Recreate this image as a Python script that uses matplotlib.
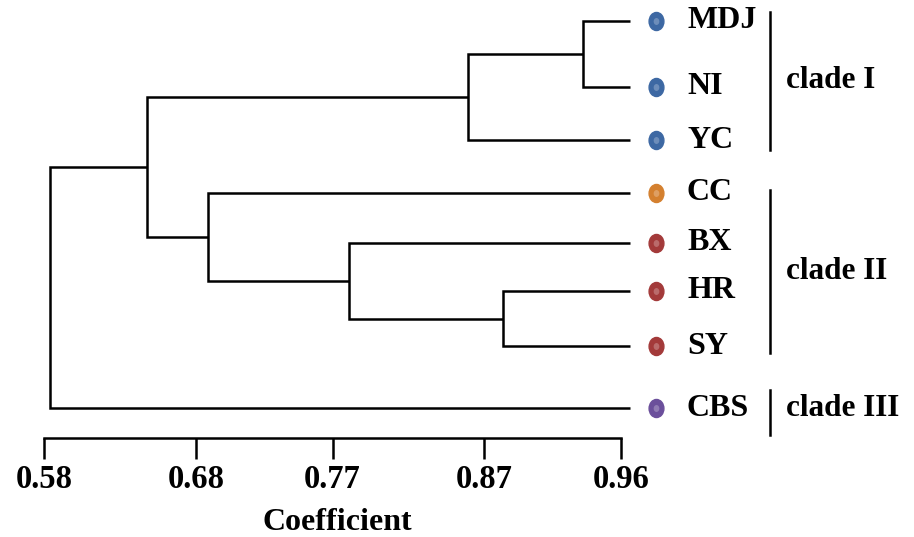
import matplotlib.pyplot as plt
from matplotlib.path import Path
from matplotlib.transforms import Affine2D

# leaves, top to bottom
leaves = ["MDJ", "NI", "YC", "CC", "BX", "HR", "SY", "CBS"]
leaf_colors = ["#3d68a3", "#3d68a3", "#3d68a3", "#d4802f",
               "#a33a3a", "#a33a3a", "#a33a3a", "#6b4f9b"]
# merges: (left child, right child, coefficient)
merges = [
    ("MDJ", "NI", 0.935),
    ("MDJ+NI", "YC", 0.859),
    ("HR", "SY", 0.882),
    ("BX", "HR+SY", 0.781),
    ("CC", "BX+HR+SY", 0.688),
    ("MDJ+NI+YC", "CC+BX+HR+SY", 0.648),
    ("MDJ+NI+YC+CC+BX+HR+SY", "CBS", 0.584),
]
leaf_end = 0.966
ticks = [0.58, 0.68, 0.77, 0.87, 0.96]
tick_labels = ["0.58", "0.68", "0.77", "0.87", "0.96"]
clades = [("clade I", ["MDJ", "NI", "YC"]),
          ("clade II", ["CC", "BX", "HR", "SY"]),
          ("clade III", ["CBS"])]

# layout (pixel rows of the leaves)
leaf_y = [21, 87, 140, 193, 243, 291, 346, 408]

W, H = 914, 537
px_per_unit = (621 - 44) / (0.96 - 0.58)

plt.rcParams["font.family"] = ["Liberation Serif", "DejaVu Serif"]
plt.rcParams["font.weight"] = "bold"

fig = plt.figure(figsize=(W / 100, H / 100), dpi=100)
ax = fig.add_axes([0, 0, 1, 1])
ax.set_xlim(0.58 - 44 / px_per_unit, 0.58 + (W - 44) / px_per_unit)
ax.set_ylim(H, 0)

lw = 1.8
pos = {name: (leaf_end, y) for name, y in zip(leaves, leaf_y)}
for a, b, h in merges:
    xa, ya = pos[a]
    xb, yb = pos[b]
    ax.plot([xa, h, h, xb], [ya, ya, yb, yb], color="black", lw=lw,
            solid_joinstyle="miter", solid_capstyle="butt")
    pos[a + "+" + b] = (h, (ya + yb) / 2)

# axis at the bottom
for s in ["top", "right", "left"]:
    ax.spines[s].set_visible(False)
ax.spines["bottom"].set_position(("data", 438))
ax.spines["bottom"].set_bounds(0.58, 0.96)
ax.spines["bottom"].set_linewidth(lw)
ax.set_yticks([])
ax.set_xticks(ticks)
ax.set_xticklabels(tick_labels)
ax.tick_params(axis="x", direction="out", length=15, width=lw, pad=4,
               labelsize=23.5)
for t in ax.get_xticklabels():
    t.set_fontweight("bold")

ax.text(0.58 + (337 - 44) / px_per_unit, 522, "Coefficient", ha="center",
        va="center", fontsize=23, fontweight="bold")

# dots and leaf labels
tr = ax.get_yaxis_transform()
dot = Path.unit_circle().transformed(Affine2D().scale(0.82, 1.0))
for name, y, c in zip(leaves, leaf_y, leaf_colors):
    ax.plot(656 / W, y, marker=dot, ms=13, color=c, mec=c, transform=tr,
            clip_on=False)
    ax.plot(656 / W, y, marker=dot, ms=5, color="white", alpha=0.25,
            mec="none", transform=tr, clip_on=False)
    ax.text(687 / W, y, name, ha="left", va="center", fontsize=23,
            fontweight="bold", transform=tr)

# clade brackets
bounds = {"clade I": (12, 150), "clade II": (190, 353), "clade III": (390, 435)}
for label, members in clades:
    y0, y1 = bounds[label]
    ax.plot([770 / W, 770 / W], [y0, y1], color="black", lw=lw, transform=tr,
            clip_on=False)
    ys = [leaf_y[leaves.index(m)] for m in members]
    yc = (y0 + y1) / 2 if len(members) > 1 else ys[0]
    ax.text(786 / W, yc, label, ha="left", va="center", fontsize=22.5,
            fontweight="bold", transform=tr)

fig.savefig("out.png", dpi=100)
